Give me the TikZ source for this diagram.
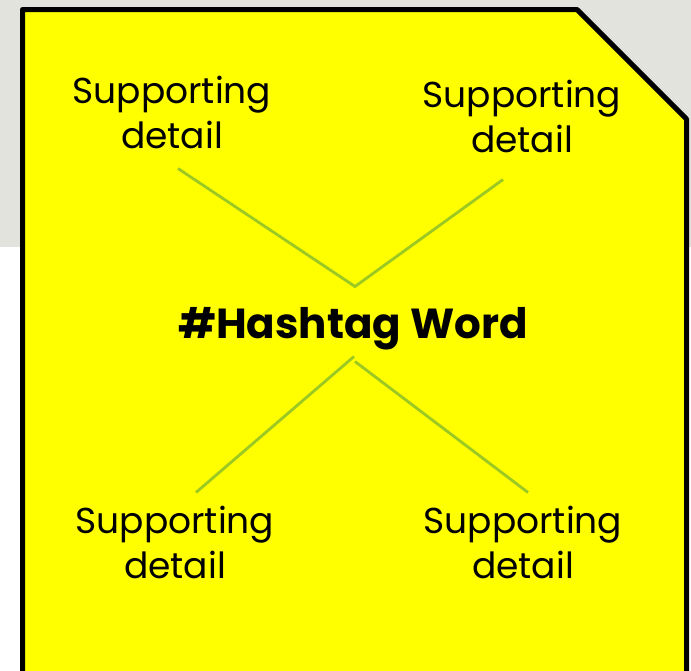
\documentclass[tikz,border=0pt]{standalone}
\usepackage{fontspec}
\setmainfont{Poppins}

\definecolor{notegray}{RGB}{227,227,221}
\definecolor{noteyellow}{RGB}{255,255,0}
\definecolor{spokegreen}{RGB}{155,200,35}

\tikzset{
  detail/.style={align=center, inner sep=0pt, font=\fontsize{36}{45}\selectfont},
  hashtag/.style={inner sep=0pt, font=\fontsize{42}{50}\selectfont\bfseries},
  spoke/.style={spokegreen, line width=2.8pt},
}

\begin{document}
\begin{tikzpicture}[x=1pt, y=-1pt]
  \useasboundingbox (0,0) rectangle (691,670);

  % 背景
  \fill[notegray] (0,0) rectangle (691,247);

  % 便签（右上角切角）
  \filldraw[fill=noteyellow, draw=black, line width=5pt, line join=round]
    (22.5,690) -- (22.5,9.5) -- (577,9.5) -- (686.5,119) -- (686.5,690);

  % 中心词与四个细节
  \node[hashtag] (word) at (353,329) {\#Hashtag Word};
  \node[detail] (tl) at (172,112) {Supporting\\detail};
  \node[detail] (tr) at (522,116) {Supporting\\detail};
  \node[detail] (bl) at (175,542) {Supporting\\detail};
  \node[detail] (br) at (523,542) {Supporting\\detail};

  % 连线
  \coordinate (upper) at ([shift={(2,-21)}]word.north);
  \coordinate (lowerL) at ([shift={(1,6)}]word.south);
  \coordinate (lowerR) at ([shift={(2,11)}]word.south);
  \draw[spoke] ([shift={(6,20)}]tl.south) -- (upper) -- ([shift={(-19,27)}]tr.south);
  \draw[spoke] (lowerL) -- ([shift={(21,-13)}]bl.north);
  \draw[spoke] (lowerR) -- ([shift={(5,-13)}]br.north);
\end{tikzpicture}
\end{document}
